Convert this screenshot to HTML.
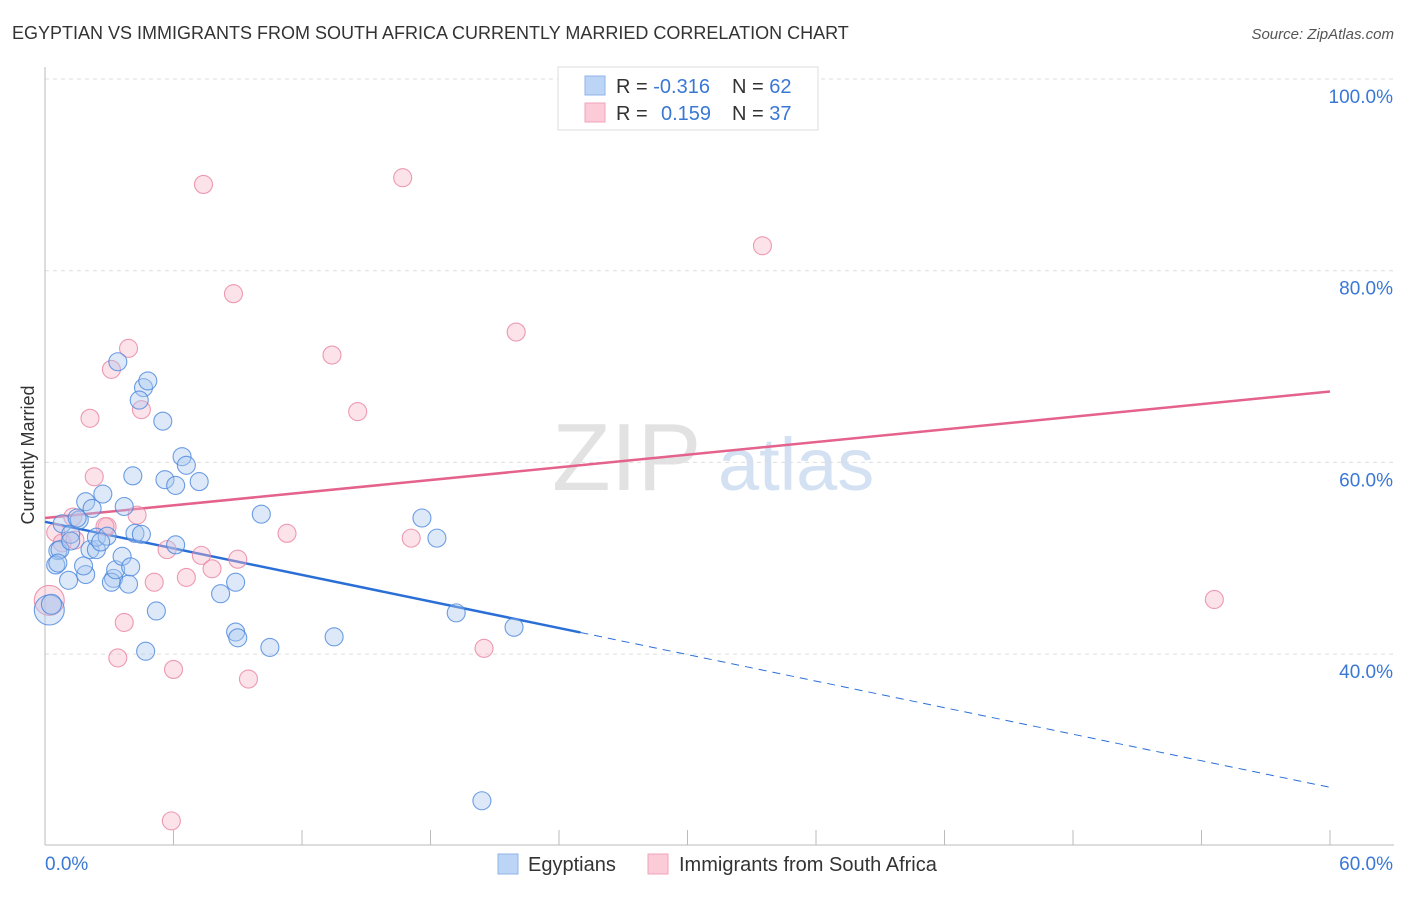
<!DOCTYPE html>
<html><head><meta charset="utf-8"><style>
body{margin:0;background:#fff;font-family:"Liberation Sans",sans-serif;}
svg text{font-family:"Liberation Sans",sans-serif;}
</style></head><body>
<svg id="chart" width="1406" height="892" viewBox="0 0 1406 892" xmlns="http://www.w3.org/2000/svg">
<text x="12" y="39" font-size="18" fill="#333">EGYPTIAN VS IMMIGRANTS FROM SOUTH AFRICA CURRENTLY MARRIED CORRELATION CHART</text>
<text x="1394" y="39" font-size="15" fill="#555" font-style="italic" text-anchor="end">Source: ZipAtlas.com</text>
<g>
<text x="552" y="490" font-size="96" fill="#e2e2e2" font-family="Liberation Serif,serif">ZIP</text>
<text x="718" y="490" font-size="74" fill="#d3e1f3">atlas</text>
</g>
<g id="grid"></g><g id="axes"></g><g id="lines"></g><g id="points"></g>
<text transform="translate(34,455) rotate(-90)" font-size="18" fill="#333" text-anchor="middle">Currently Married</text>
<g>
<rect x="558" y="67" width="260" height="63" fill="#fff" stroke="#ddd"/>
<rect x="585" y="76" width="20" height="19" fill="#bcd4f5" stroke="#8fb3e8"/>
<rect x="585" y="103" width="20" height="19" fill="#fbcbd8" stroke="#f0a3b8"/>
<text x="616" y="93" font-size="20" fill="#333">R = <tspan fill="#3a78d6">-0.316</tspan><tspan x="732">N = </tspan><tspan fill="#3a78d6">62</tspan></text>
<text x="616" y="120" font-size="20" fill="#333">R = <tspan x="661" fill="#3a78d6">0.159</tspan><tspan x="732">N = </tspan><tspan fill="#3a78d6">37</tspan></text>
</g>
<g>
<rect x="498" y="854" width="20" height="20" fill="#bcd4f5" stroke="#8fb3e8"/>
<text x="528" y="871" font-size="20" fill="#333">Egyptians</text>
<rect x="648" y="854" width="20" height="20" fill="#fbcbd8" stroke="#f0a3b8"/>
<text x="679" y="871" font-size="20" fill="#333">Immigrants from South Africa</text>
</g>
</svg>
<script>
const yTicks=[40,60,80,100];
const xTickLabels=["0.0%","60.0%"];
const blueX=[0.2,0.3,0.6,0.7,0.5,0.6,1.1,0.8,1.2,1.2,1.6,1.5,1.9,2.2,1.9,1.8,2.1,2.4,2.4,2.7,2.9,2.6,3.2,3.1,3.3,3.6,3.9,4.0,3.7,4.1,4.2,4.5,3.4,4.6,4.8,4.4,5.5,6.4,6.6,5.6,6.1,7.2,6.1,5.2,4.7,8.2,8.9,8.9,9.0,10.1,10.5,13.5,17.6,18.3,19.2,21.9,20.4];
const blueY=[44.6,45.2,50.8,50.9,49.3,49.5,47.7,53.6,52.5,51.8,54.0,54.2,55.9,55.2,48.3,49.2,50.9,50.9,52.2,56.7,52.3,51.7,47.9,47.5,48.8,50.2,47.3,49.1,55.4,58.6,52.6,52.5,70.5,67.8,68.5,66.5,64.3,60.6,59.7,58.2,57.6,58.0,51.4,44.5,40.3,46.3,47.5,42.3,41.7,54.6,40.7,41.8,54.2,52.1,44.3,42.8,24.7];
const blueSize=[15,10,9,9,9,9,9,9,9,9,9,9,9,9,9,9,9,9,9,9,9,9,9,9,9,9,9,9,9,9,9,9,9,9,9,9,9,9,9,9,9,9,9,9,9,9,9,9,9,9,9,9,9,9,9,9,9];
const pinkX=[7.4,16.7,33.5,8.8,13.4,22.0,3.9,3.1,4.5,2.1,14.6,2.3,4.3,2.9,1.3,0.5,0.2,0.8,11.3,17.1,5.7,7.3,9.0,7.8,6.6,5.1,3.7,3.4,6.0,9.5,20.5,54.6,5.9,2.8,1.4];
const pinkY=[89.0,89.7,82.6,77.6,71.2,73.6,71.9,69.7,65.5,64.6,65.3,58.5,54.5,53.3,54.3,52.7,45.6,51.6,52.6,52.1,50.9,50.3,49.9,48.9,48.0,47.5,43.3,39.6,38.4,37.4,40.6,45.7,22.6,53.3,51.9];
const pinkSize=[9,9,9,9,9,9,9,9,9,9,9,9,9,9,9,9,15,9,9,9,9,9,9,9,9,9,9,9,9,9,9,9,9,9,9];
const blueTrend=[53.8,26.1];
const pinkTrend=[54.2,67.4];
const blueSolidEnd=25;

const NS="http://www.w3.org/2000/svg";
const X=v=>45+v/60*1285;
const Y=v=>79+(100-v)/20*191.7;
function mk(tag,attrs,parent){const e=document.createElementNS(NS,tag);for(const k in attrs)e.setAttribute(k,attrs[k]);document.getElementById(parent).appendChild(e);return e;}
yTicks.forEach(t=>{
 const l=mk('line',{x1:45,x2:1394,y1:Y(t),y2:Y(t),stroke:'#ddd','stroke-dasharray':'4,4'},'grid');
 
 
 const tx=mk('text',{x:1393,y:Y(t)+24,'font-size':19,fill:'#3a78d6','text-anchor':'end'},'grid');
 tx.textContent=t.toFixed(1)+'%';
 
 
});
const ax=mk('line',{x1:45,x2:45,y1:67,y2:845,stroke:'#bbb'},'axes');


const bx=mk('line',{x1:45,x2:1394,y1:845,y2:845,stroke:'#bbb'},'axes');


for(let i=0;i<=10;i++){const xx=45+i*128.5;
 const t=mk('line',{x1:xx,x2:xx,y1:830,y2:845,stroke:'#bbb'},'axes');
 
 }
const xl0=mk('text',{x:45,y:870,'font-size':19,fill:'#3a78d6'},'axes');xl0.textContent=xTickLabels[0];


const xl1=mk('text',{x:1393,y:870,'font-size':19,fill:'#3a78d6','text-anchor':'end'},'axes');xl1.textContent=xTickLabels[1];


function drawPts(xs,ys,sz,fill,stroke,name){xs.forEach((x,i)=>{
 const c=mk('circle',{cx:X(x),cy:Y(ys[i]),r:sz[i],fill:fill,'fill-opacity':0.4,stroke:stroke,'stroke-opacity':0.8,'stroke-width':1.1},'points');
 
 });}
drawPts(pinkX,pinkY,pinkSize,'#f7b6c8','#e883a0','point-south-africa');
drawPts(blueX,blueY,blueSize,'#a9c8f0','#4a86dc','point-egyptians');
const bAt=x=>blueTrend[0]+(blueTrend[1]-blueTrend[0])*x/60;
const pl=mk('line',{x1:X(0),y1:Y(pinkTrend[0]),x2:X(60),y2:Y(pinkTrend[1]),stroke:'#e4628c','stroke-width':2.5},'lines');


const bl=mk('line',{x1:X(0),y1:Y(bAt(0)),x2:X(blueSolidEnd),y2:Y(bAt(blueSolidEnd)),stroke:'#2a6fd6','stroke-width':2.5},'lines');


const bd=mk('line',{x1:X(blueSolidEnd),y1:Y(bAt(blueSolidEnd)),x2:X(60),y2:Y(bAt(60)),stroke:'#2a6fd6','stroke-width':1,'stroke-dasharray':'8,6'},'lines');


</script>
</body></html>
